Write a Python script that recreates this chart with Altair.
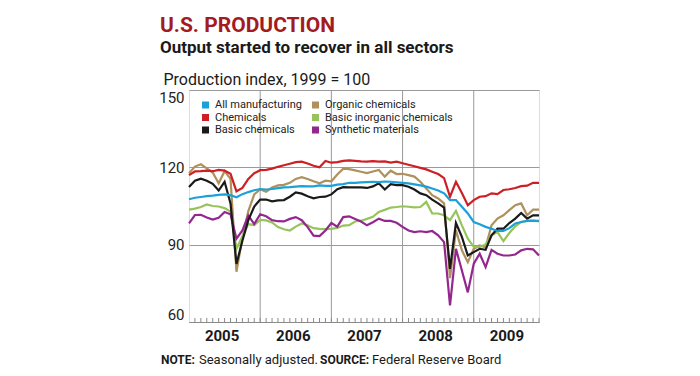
import altair as alt
import pandas as pd

# ---------------- data ----------------
years = ["2005", "2006", "2007", "2008", "2009"]
# legend order (filled column by column: 3 rows x 2 columns)
series_names = [
    "All manufacturing", "Chemicals", "Basic chemicals",
    "Organic chemicals", "Basic inorganic chemicals", "Synthetic materials",
]
series_colors = ["#1ba0d8", "#cc1f26", "#1a1a1a", "#b0905c", "#97c45a", "#93278f"]

all_manufacturing = [
    107.6, 108.2, 108.5, 108.8, 109, 109.3, 109.5, 109.2, 108.4, 109.6, 110.4, 111.1,
    111.6, 111.4, 111.6, 111.9, 112.2, 112.3, 112.5, 112.7, 112.6, 112.6, 113, 112.8,
    112.8, 113.3, 113.5, 114, 114, 114.2, 114.3, 114.4, 114.3, 114.5, 114.4, 114.2,
    114, 113.8, 113.4, 113, 112.5, 111.8, 111, 109.9, 107.3, 107.3, 104.7, 102.1,
    98.8, 97.9, 96.9, 96.2, 95.3, 95.3, 96.4, 98.2, 98.8, 99.2, 99.2, 99.2,
]
chemicals = [
    117, 118.4, 118.5, 118.7, 118.5, 119, 118.7, 117.5, 110.7, 112, 115.5, 117.7,
    118.9, 119, 119.5, 120.2, 120.8, 121.4, 122, 122.2, 121.5, 120.6, 120, 122.5,
    121.8, 122, 122.5, 122.7, 122.5, 122.3, 122.2, 122.4, 122.2, 122.3, 121.8, 122.2,
    121.6, 121, 120.4, 119.8, 119.2, 118.3, 117.4, 115.8, 108.6, 114.4, 110, 105.3,
    107.3, 108.6, 108.8, 109.9, 109.6, 111.2, 111.5, 112, 112.7, 112.9, 114, 114,
]
basic_chemicals = [
    112.4, 114.8, 115.6, 114.8, 113.6, 111, 114.4, 106, 82.5, 91.5, 99.5, 104.8,
    107.5, 107.5, 106.8, 107.2, 107.3, 108.6, 110.3, 109.8, 108.8, 108, 108.5, 108.6,
    109.5, 111.5, 112.3, 112.2, 112.2, 112.2, 112, 112.6, 113.8, 111.4, 113.5, 113.1,
    113.1, 112.5, 111.4, 109.9, 109.2, 107.5, 106, 104.4, 80.6, 98.4, 93, 85.8,
    87.1, 88.4, 88, 93.6, 96.2, 96.2, 98.4, 100.1, 102.3, 100.1, 101.4, 101.4,
]
organic_chemicals = [
    117.7, 120.3, 121.2, 119.6, 118, 113.8, 118.5, 115.5, 79.5, 92.5, 103, 109.5,
    111.5, 110.5, 112.2, 113, 113.2, 114, 115.5, 116.2, 115.5, 114.6, 113.8, 114.8,
    114.6, 117.2, 119.5, 119.3, 118.8, 118.3, 117.8, 118.4, 119, 116.4, 118.7, 117.4,
    117.5, 117, 116.4, 114.4, 111.8, 109.2, 107.9, 106, 77, 95.6, 87.8, 83.2,
    88.4, 89.7, 89, 97.5, 100.1, 101.4, 103.4, 105.3, 106, 101.4, 103.6, 103.6,
]
basic_inorganic = [
    103.6, 104, 104.6, 105.6, 105, 104.8, 104.2, 102.8, 88.4, 93.3, 98, 97.6,
    99.6, 99.4, 98.6, 96.8, 96, 95.5, 97, 98.2, 97.5, 96.4, 96.1, 96,
    96.1, 96.5, 97.4, 97.6, 99, 99.3, 100, 100.8, 102.7, 103.5, 104.4, 104.6,
    104.9, 104.7, 104.5, 104.6, 106.6, 102.1, 102.1, 101.4, 99.5, 103.1, 97.5, 92.3,
    89.1, 89.1, 90.1, 93.6, 94.9, 91.4, 94.5, 97.1, 98.8, 99.2, 99.4, 99,
]
synthetic = [
    98.3, 101.5, 101.6, 100.5, 99.7, 100.4, 102.7, 101.8, 92.3, 95.5, 101.3, 98,
    101.8, 101, 99.5, 99.1, 99, 100, 100.7, 99.5, 96.8, 93.5, 93.3, 95.5,
    98.4, 97, 100.7, 101, 100, 99, 97.5, 98.7, 100.1, 99.2, 99.2, 98.5,
    96.9, 95.5, 94.9, 95.2, 94.9, 95.3, 93.6, 91, 66.4, 88.4, 80, 71.5,
    82.6, 86.5, 81.3, 88, 86.5, 85.8, 85.8, 86.2, 87.8, 88.4, 88.2, 85.8,
]
y_ticks = [60, 90, 120, 150]

# drawing order (first drawn at the bottom)
series_values = {
    "Organic chemicals": organic_chemicals,
    "Basic inorganic chemicals": basic_inorganic,
    "Synthetic materials": synthetic,
    "Basic chemicals": basic_chemicals,
    "Chemicals": chemicals,
    "All manufacturing": all_manufacturing,
}

rows = []
for name, vals in series_values.items():
    for i, v in enumerate(vals):
        rows.append({"series": name, "m": i, "value": v})
df = pd.DataFrame(rows)

n_months = len(all_manufacturing)
months_df = pd.DataFrame({"m": list(range(1, n_months))})
year_start_df = pd.DataFrame({"m": [12 * k for k in range(1, len(years))]})
year_mid = [12 * k + 5.5 for k in range(len(years))]
year_label_expr = "[" + ",".join("'" + y + "'" for y in years) + "][floor(datum.value / 12)]"

FONT = "Roboto"
W, H = 350, 232
GRID = "#9a9a9a"

x_scale = alt.Scale(domain=[0, n_months - 1], nice=False, zero=False)
y_scale = alt.Scale(domain=[60, 150], nice=False, zero=False)

year_rules = alt.Chart(year_start_df).mark_rule(color=GRID, strokeWidth=1).encode(
    x=alt.X("m:Q", scale=x_scale),
    y=alt.value(0),
    y2=alt.value(H),
)

month_ticks = alt.Chart(months_df).mark_rule(color="#8a8a8a", strokeWidth=1).encode(
    x=alt.X("m:Q", scale=x_scale),
    y=alt.value(H),
    y2=alt.value(H - 4),
)

lines = alt.Chart(df).mark_line(strokeWidth=2.2).encode(
    x=alt.X(
        "m:Q", scale=x_scale,
        axis=alt.Axis(
            values=year_mid, labelExpr=year_label_expr, grid=False, ticks=False,
            domain=True, domainColor="#8a8a8a", labelFont=FONT, labelFontSize=15,
            labelFontWeight="bold", labelColor="#1a1a1a", labelPadding=6, title=None,
        ),
    ),
    y=alt.Y(
        "value:Q", scale=y_scale,
        axis=alt.Axis(
            values=y_ticks, grid=True, gridColor=GRID, gridWidth=1, domain=False,
            ticks=False, labelFlush=True, labelFont=FONT, labelFontSize=15,
            labelColor="#222222", labelPadding=5,
            title="Production index, 1999 = 100", titleAngle=0, titleAlign="left",
            titleBaseline="alphabetic", titleX=-26, titleY=-6, titleFont=FONT,
            titleFontSize=16, titleFontWeight="normal", titleColor="#1a1a1a",
        ),
    ),
    color=alt.Color(
        "series:N",
        scale=alt.Scale(domain=series_names, range=series_colors),
        legend=alt.Legend(
            title=None, orient="none", legendX=11, legendY=9, columns=2,
            symbolType="square", symbolSize=9, symbolStrokeWidth=4,
            labelFont=FONT, labelFontSize=11, labelColor="#222222",
            clipHeight=12, rowPadding=0.5, columnPadding=8, labelOffset=4, padding=0,
        ),
    ),
)

one = pd.DataFrame({"k": [0]})
note_y = 274
note_parts = [
    ("NOTE:", "bold", 12, -28),
    ("Seasonally adjusted.", "normal", 13, 10),
    ("SOURCE:", "bold", 12, 131),
    ("Federal Reserve Board", "normal", 13, 183),
]
notes = [
    alt.Chart(one).mark_text(
        text=txt, font=FONT, fontSize=fs, fontWeight=wt, color="#1a1a1a",
        align="left", baseline="alphabetic",
    ).encode(x=alt.value(xp), y=alt.value(note_y))
    for txt, wt, fs, xp in note_parts
]

chart = alt.layer(year_rules, month_ticks, lines, *notes).properties(
    width=W,
    height=H,
    padding={"left": 189, "top": 90, "right": 161, "bottom": 54},
    autosize=alt.AutoSizeParams(type="none"),
    title=alt.TitleParams(
        text="U.S. PRODUCTION",
        subtitle="Output started to recover in all sectors",
        anchor="start", frame="group", dx=-29, offset=15,
        font=FONT, fontSize=21, fontWeight="bold", color="#a31a1f",
        subtitleFont=FONT, subtitleFontSize=17, subtitleFontWeight="bold",
        subtitleColor="#1a1a1a", subtitlePadding=4,
    ),
).configure_view(stroke="#8a8a8a", strokeWidth=1).configure(background="white")

chart.save("out.html", embed_options={"renderer": "svg", "actions": False})
